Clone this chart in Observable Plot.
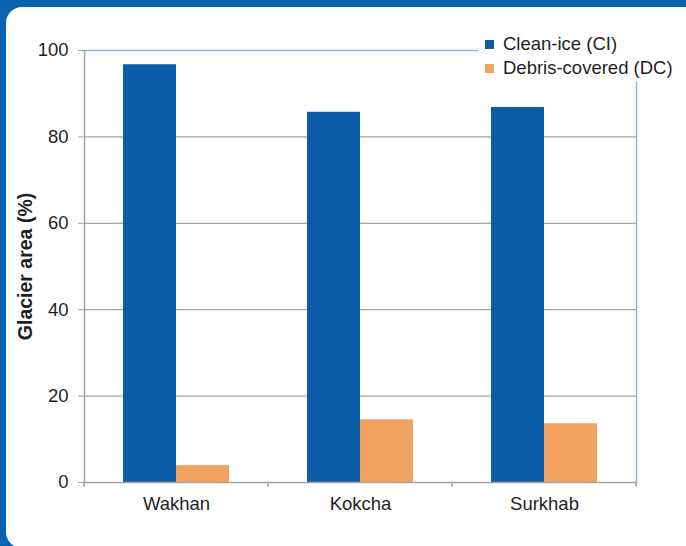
<!DOCTYPE html>
<html>
<head>
<meta charset="utf-8">
<script src="https://cdn.jsdelivr.net/npm/d3@7"></script>
<script src="https://cdn.jsdelivr.net/npm/@observablehq/plot@0.6"></script>
<style>
  html, body { margin: 0; padding: 0; }
  body { width: 686px; height: 546px; background: #0A63B0; position: relative; overflow: hidden;
         font-family: "Liberation Sans", Arial, sans-serif; }
  #panel { position: absolute; left: 6px; top: 7px; width: 700px; height: 541px; background: #fff; border-radius: 16px; }
  #chart { position: absolute; left: 0; top: 0; }
  #legend { position: absolute; left: 478px; top: 31px; width: 206px; background: #fff; padding: 1px 0 2px 0; }
  .row { display: flex; align-items: center; height: 24px; font-size: 18.5px; color: #1f1f1f; white-space: nowrap; }
  .sw { width: 9px; height: 9px; margin-left: 7px; margin-right: 9px; }
</style>
</head>
<body>
<div id="panel"></div>
<div id="chart"></div>
<div id="legend"></div>
<script>
const regions = ["Wakhan", "Kokcha", "Surkhab"];
const seriesNames = ["Clean-ice (CI)", "Debris-covered (DC)"];
const cleanIce = [96.7, 85.7, 86.8];
const debrisCovered = [3.9, 14.5, 13.6];
const yTicks = [0, 20, 40, 60, 80, 100];
const seriesColors = ["#0B5DA7", "#F0A25E"];

const gray = "#A8A3A0";
const frameBlue = "#8FB4E3";

const data = regions.flatMap((r, i) => [
  {region: r, series: seriesNames[0], value: cleanIce[i]},
  {region: r, series: seriesNames[1], value: debrisCovered[i]}
]);

const chart = Plot.plot({
  width: 686,
  height: 546,
  marginLeft: 83,
  marginRight: 49,
  marginTop: 50,
  marginBottom: 64,
  style: {background: "transparent", fontFamily: "'Liberation Sans', Arial, sans-serif", fontSize: "18.5px", color: "#1f1f1f"},
  fx: {domain: regions, padding: 0, axis: null, label: null},
  x: {domain: seriesNames, paddingInner: 0, paddingOuter: 0.73, axis: null},
  y: {domain: [0, 100], axis: null},
  color: {domain: seriesNames, range: seriesColors},
  marks: [
    Plot.ruleY(yTicks.filter(t => t > 0 && t < 100), {stroke: gray, strokeWidth: 1.3}),
    Plot.ruleY([100], {stroke: frameBlue, strokeWidth: 1.5}),
    Plot.frame({anchor: "right", facetAnchor: "right", stroke: frameBlue, strokeWidth: 1.5}),
    Plot.barY(data, {fx: "region", x: "series", y: "value", fill: "series"}),
    Plot.ruleY([0], {stroke: gray, strokeWidth: 1.5}),
    Plot.frame({anchor: "left", facetAnchor: "left", stroke: gray, strokeWidth: 1.5}),
    Plot.axisY({ticks: yTicks, tickSize: 6, tickPadding: 10, stroke: gray, fill: "#1f1f1f", fontSize: 18.5,
                label: "Glacier area (%)", labelAnchor: "center", labelArrow: "none", labelOffset: 66}),
    Plot.axisFx({anchor: "bottom", tickSize: 0, tickPadding: 14, fill: "#1f1f1f", fontSize: 18.5, label: null})
  ]
});

document.getElementById("chart").appendChild(chart);

// Excel-style category tick marks between groups, placed with the fx scale
const fx = chart.scale("fx");
const yS = chart.scale("y");
const svg = d3.select(chart);
const bounds = regions.map(r => fx.apply(r)).concat([fx.apply(regions[regions.length - 1]) + fx.step]);
const y0 = yS.apply(0);
svg.append("g").selectAll("line").data(bounds).join("line")
  .attr("x1", d => d).attr("x2", d => d)
  .attr("y1", y0).attr("y2", y0 + 5)
  .attr("stroke", gray).attr("stroke-width", 1.5);

// bold y-axis title
svg.selectAll("[aria-label='y-axis label'] text, [aria-label='y-axis label']")
  .style("font-weight", "bold").style("font-size", "19.5px");

// legend
const legend = d3.select("#legend");
seriesNames.forEach((s, i) => {
  const row = legend.append("div").attr("class", "row");
  row.append("div").attr("class", "sw").style("background", seriesColors[i]);
  row.append("span").text(s);
});
</script>
</body>
</html>
